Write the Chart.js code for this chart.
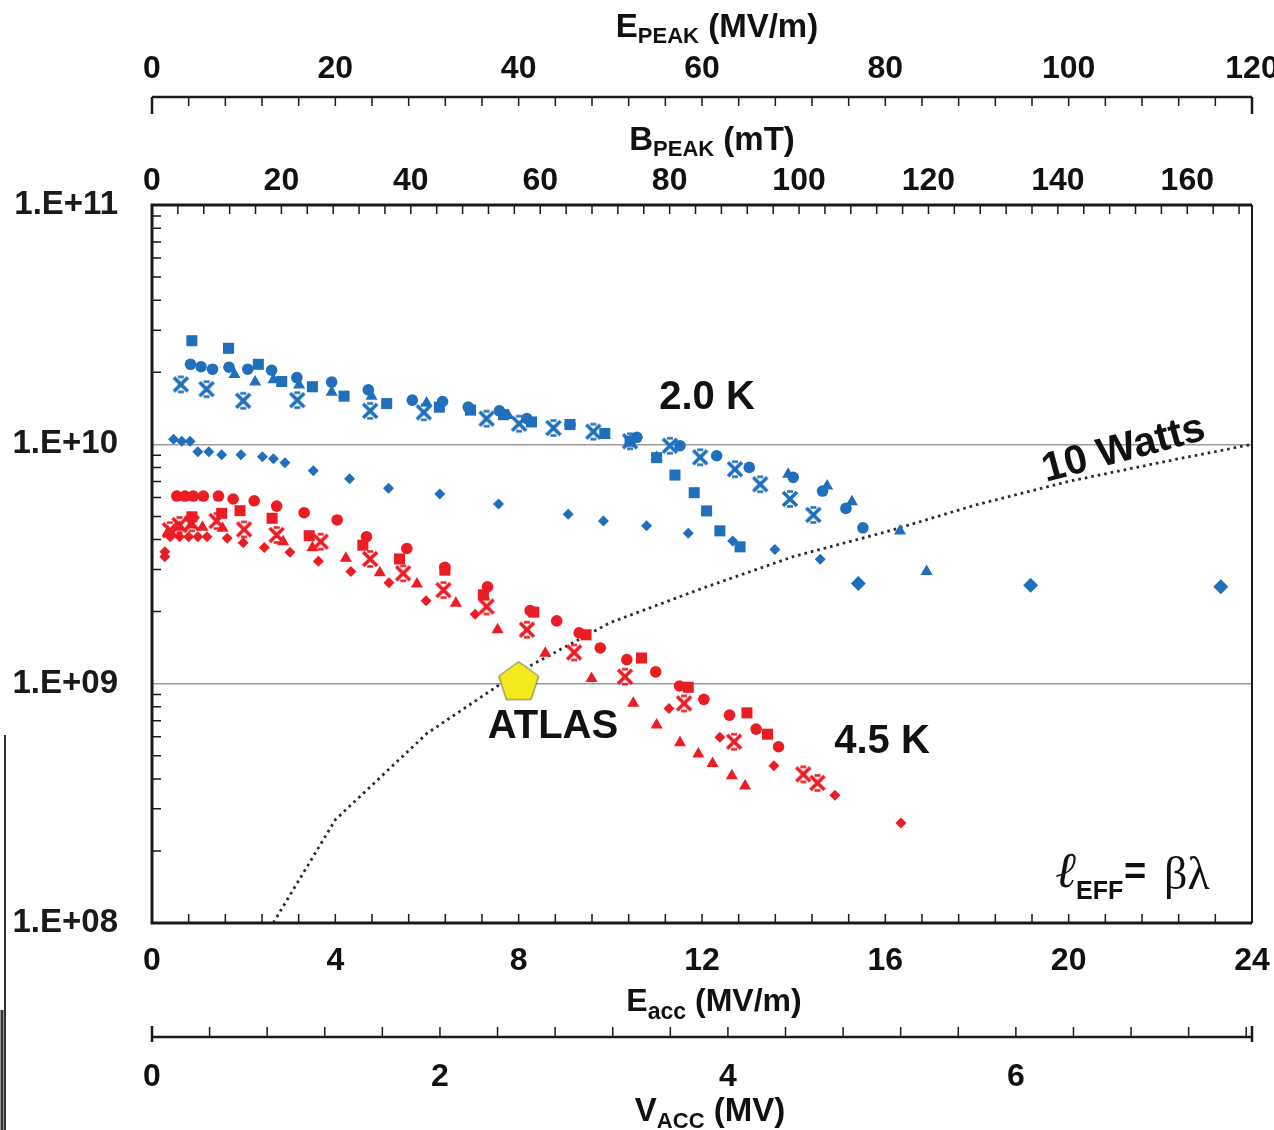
<!DOCTYPE html>
<html>
<head>
<meta charset="utf-8">
<script src="https://cdn.jsdelivr.net/npm/chart.js@4.4.1/dist/chart.umd.min.js"></script>
<style>
  body { margin: 0; background: #fff; }
  #wrap { width: 1274px; height: 1130px; }
</style>
</head>
<body>
<div id="wrap"><canvas id="myChart" width="1274" height="1130"></canvas></div>
<script>
// ---- data (Eacc in MV/m, Q0) ----
const blueCircleE = [0.84, 1.07, 1.32, 1.68, 2.09, 2.61, 3.16, 3.92, 4.72, 5.68, 6.34, 6.90, 7.58, 8.18, 9.12, 10.58, 11.52, 12.32, 13.03, 13.99, 14.63, 15.14, 15.51];
const blueCircleQ = [2.16e10, 2.11e10, 2.06e10, 2.10e10, 2.06e10, 2.04e10, 1.90e10, 1.82e10, 1.69e10, 1.53e10, 1.51e10, 1.43e10, 1.38e10, 1.28e10, 1.21e10, 1.07e10, 9.87e9, 8.96e9, 8.01e9, 7.28e9, 6.38e9, 5.40e9, 4.48e9];

const blueSquareE = [0.87, 1.67, 2.32, 2.83, 3.50, 4.19, 5.12, 6.27, 6.95, 7.67, 8.28, 9.12, 9.88, 10.43, 11.01, 11.41, 11.83, 12.10, 12.39, 12.83];
const blueSquareQ = [2.71e10, 2.52e10, 2.16e10, 1.83e10, 1.74e10, 1.59e10, 1.48e10, 1.43e10, 1.39e10, 1.33e10, 1.24e10, 1.21e10, 1.11e10, 1.03e10, 8.8e9, 7.44e9, 6.28e9, 5.27e9, 4.35e9, 3.73e9];

const blueTriE = [1.80, 2.25, 2.65, 3.21, 3.92, 4.79, 5.99, 7.77, 10.43, 11.01, 13.88, 14.73, 15.27, 16.32, 16.90];
const blueTriQ = [1.96e10, 1.82e10, 1.86e10, 1.77e10, 1.65e10, 1.59e10, 1.49e10, 1.32e10, 1.03e10, 8.8e9, 7.50e9, 6.70e9, 5.75e9, 4.34e9, 2.94e9];

const blueStarE = [0.63, 1.19, 1.99, 3.17, 4.76, 5.93, 7.30, 8.01, 8.76, 9.63, 10.43, 11.30, 11.96, 12.72, 13.27, 13.92, 14.43];
const blueStarQ = [1.78e10, 1.70e10, 1.52e10, 1.53e10, 1.38e10, 1.36e10, 1.28e10, 1.22e10, 1.17e10, 1.13e10, 1.03e10, 9.87e9, 8.83e9, 7.87e9, 6.81e9, 5.91e9, 5.07e9];

const blueDiamondE = [0.47, 0.65, 0.83, 1.00, 1.24, 1.52, 1.94, 2.41, 2.65, 2.90, 3.52, 4.31, 5.16, 6.28, 7.56, 9.08, 9.85, 10.79, 11.70, 12.67, 13.59, 14.58];
const blueDiamondQ = [1.05e10, 1.03e10, 1.03e10, 9.31e9, 9.31e9, 9.05e9, 9.05e9, 8.87e9, 8.70e9, 8.38e9, 7.76e9, 7.18e9, 6.56e9, 6.20e9, 5.63e9, 5.10e9, 4.78e9, 4.57e9, 4.25e9, 3.95e9, 3.64e9, 3.31e9];

const blueBigDiamondE = [15.41, 19.17, 23.32];
const blueBigDiamondQ = [2.62e9, 2.58e9, 2.54e9];

const redCircleE = [0.54, 0.72, 0.90, 1.12, 1.45, 1.77, 2.23, 2.72, 3.32, 4.04, 4.68, 5.56, 6.39, 7.32, 8.25, 8.83, 9.32, 9.78, 10.36, 10.99, 11.51, 12.04, 12.60, 13.18, 13.67];
const redCircleQ = [6.08e9, 6.08e9, 6.08e9, 6.08e9, 6.08e9, 5.91e9, 5.81e9, 5.52e9, 5.18e9, 4.83e9, 4.11e9, 3.67e9, 3.06e9, 2.54e9, 2.02e9, 1.83e9, 1.63e9, 1.41e9, 1.26e9, 1.12e9, 9.78e8, 8.60e8, 7.39e8, 6.46e8, 5.45e8];

const redSquareE = [0.87, 1.52, 1.92, 2.62, 3.43, 4.60, 5.40, 6.39, 7.23, 8.33, 9.47, 10.68, 11.70, 12.98, 13.43];
const redSquareQ = [4.98e9, 5.15e9, 5.28e9, 4.91e9, 4.15e9, 3.79e9, 3.32e9, 2.98e9, 2.35e9, 1.99e9, 1.60e9, 1.28e9, 9.66e8, 7.55e8, 6.15e8];

const redTriE = [0.35, 0.60, 0.85, 1.10, 1.54, 2.86, 3.50, 4.23, 4.97, 5.78, 6.63, 7.54, 8.58, 9.59, 10.50, 11.01, 11.52, 11.92, 12.23, 12.65, 12.94];
const redTriQ = [4.3e9, 4.5e9, 4.6e9, 4.5e9, 4.46e9, 3.92e9, 3.70e9, 3.34e9, 2.91e9, 2.61e9, 2.17e9, 1.68e9, 1.34e9, 1.05e9, 8.28e8, 6.72e8, 5.67e8, 5.08e8, 4.64e8, 4.12e8, 3.74e8];

const redStarE = [0.39, 0.60, 0.87, 1.41, 2.01, 2.72, 3.68, 4.76, 5.48, 6.36, 7.30, 8.18, 9.21, 10.32, 11.61, 12.70, 14.21, 14.52];
const redStarQ = [4.38e9, 4.6e9, 4.68e9, 4.78e9, 4.41e9, 4.18e9, 3.92e9, 3.32e9, 2.89e9, 2.46e9, 2.10e9, 1.68e9, 1.35e9, 1.07e9, 8.27e8, 5.72e8, 4.18e8, 3.85e8];

const redDiamondE = [0.28, 0.28, 0.40, 0.60, 0.80, 1.00, 1.20, 1.64, 1.99, 2.45, 3.01, 3.63, 4.34, 5.17, 5.98, 7.05, 11.28, 12.39, 13.57, 14.90, 16.34];
const redDiamondQ = [3.56e9, 3.39e9, 4.11e9, 4.11e9, 4.11e9, 4.11e9, 4.11e9, 4.05e9, 3.88e9, 3.71e9, 3.54e9, 3.25e9, 2.94e9, 2.64e9, 2.22e9, 1.95e9, 7.88e8, 5.97e8, 4.54e8, 3.42e8, 2.62e8];

const atlasE = [8.0];
const atlasQ = [1.03e9];

// 10 W dissipation curve
const tenWattE = [2.5, 4, 6, 8, 10, 12, 14, 16, 18, 20, 22, 24];
const tenWattQ = [9.0e7, 2.7e8, 6.2e8, 1.12e9, 1.8e9, 2.5e9, 3.4e9, 4.3e9, 5.6e9, 7.0e9, 8.4e9, 1.0e10];

// axis ranges
const eaccMax = 24;
const vaccMax = 7.64;
const bpeakMax = 170;
const epeakMax = 120;

const BLUE = '#1f6fbd';
const RED = '#ec1c24';
const SANS = "'Liberation Sans', Arial, sans-serif";
const SERIF = "'Liberation Serif', 'Times New Roman', serif";

function pts(xs, ys) { return xs.map((x, i) => ({ x: x, y: ys[i] })); }

// star marker like the spreadsheet one: heavy X with short flat caps
function starMarker(color) {
  const c = document.createElement('canvas');
  c.width = 20; c.height = 20;
  const g = c.getContext('2d');
  g.strokeStyle = color; g.lineCap = 'butt';
  g.lineWidth = 3.6;
  g.beginPath();
  g.moveTo(3, 3); g.lineTo(17, 17);
  g.moveTo(17, 3); g.lineTo(3, 17);
  g.stroke();
  g.lineWidth = 2.6;
  g.beginPath();
  g.moveTo(7, 2.5); g.lineTo(13, 2.5);
  g.moveTo(7, 17.5); g.lineTo(13, 17.5);
  g.stroke();
  return c;
}

function pentagon() {
  const c = document.createElement('canvas');
  c.width = 46; c.height = 46;
  const g = c.getContext('2d');
  g.beginPath();
  for (let i = 0; i < 5; i++) {
    const a = -Math.PI / 2 + i * 2 * Math.PI / 5;
    const px = 23 + 21 * Math.cos(a), py = 25 + 21 * Math.sin(a);
    if (i === 0) g.moveTo(px, py); else g.lineTo(px, py);
  }
  g.closePath();
  g.fillStyle = '#f4ea1b';
  g.fill();
  g.strokeStyle = '#6b6b5a'; g.lineWidth = 1;
  g.stroke();
  return c;
}

function drawParts(ctx, parts, cx, baseline) {
  let w = 0;
  parts.forEach(p => { ctx.font = p[3] + ' ' + p[1] + 'px ' + (p[4] || SANS); w += ctx.measureText(p[0]).width; });
  let x = cx - w / 2;
  ctx.textAlign = 'left';
  ctx.textBaseline = 'alphabetic';
  parts.forEach(p => {
    ctx.font = p[3] + ' ' + p[1] + 'px ' + (p[4] || SANS);
    ctx.fillText(p[0], x, baseline + p[2]);
    x += ctx.measureText(p[0]).width;
  });
}

const framePlugin = {
  id: 'frame',
  beforeDatasetsDraw(chart) {
    const { ctx, chartArea: a, scales } = chart;
    ctx.save();
    ctx.strokeStyle = '#1a1a1a';
    ctx.lineWidth = 1.5;
    ctx.beginPath();
    for (let i = 1; i < 43; i++) {
      const px = scales.xB.getPixelForValue(i * 4);
      ctx.moveTo(px, a.top); ctx.lineTo(px, a.top + 9);
    }
    for (let i = 1; i < 30; i++) {
      const px = scales.x.getPixelForValue(i * 0.8);
      ctx.moveTo(px, a.bottom); ctx.lineTo(px, a.bottom - 9);
    }
    for (let d = 8; d < 11; d++) {
      for (let m = 2; m <= 9; m++) {
        const py = scales.y.getPixelForValue(m * Math.pow(10, d));
        ctx.moveTo(a.left, py); ctx.lineTo(a.left + 9, py);
      }
    }
    ctx.stroke();

    // plot frame
    ctx.lineWidth = 3;
    ctx.beginPath();
    ctx.moveTo(a.right, a.top); ctx.lineTo(a.left, a.top); ctx.lineTo(a.left, a.bottom); ctx.lineTo(a.right, a.bottom);
    ctx.stroke();
    ctx.lineWidth = 2;
    ctx.beginPath();
    ctx.moveTo(a.right, a.top); ctx.lineTo(a.right, a.bottom);
    ctx.stroke();

    // E peak axis line (top)
    const ey = scales.xE.bottom - 13;
    ctx.lineWidth = 2.5;
    ctx.beginPath();
    ctx.moveTo(scales.xE.getPixelForValue(0), ey); ctx.lineTo(scales.xE.getPixelForValue(epeakMax), ey);
    ctx.stroke();
    ctx.lineWidth = 1.5;
    ctx.beginPath();
    for (let i = 1; i < 30; i++) {
      const px = scales.xE.getPixelForValue(i * 4);
      ctx.moveTo(px, ey); ctx.lineTo(px, ey + 9);
    }
    ctx.stroke();
    ctx.lineWidth = 2.5;
    ctx.beginPath();
    [0, epeakMax].forEach(v => { const px = scales.xE.getPixelForValue(v); ctx.moveTo(px, ey); ctx.lineTo(px, ey + 17); });
    ctx.stroke();

    // V acc axis line (bottom)
    const vy = scales.xV.top;
    ctx.lineWidth = 2.5;
    ctx.beginPath();
    ctx.moveTo(scales.xV.getPixelForValue(0), vy); ctx.lineTo(scales.xV.getPixelForValue(vaccMax), vy);
    ctx.stroke();
    ctx.lineWidth = 1.5;
    ctx.beginPath();
    for (let i = 1; i <= 19; i++) {
      const px = scales.xV.getPixelForValue(i * 0.4);
      ctx.moveTo(px, vy); ctx.lineTo(px, vy - 10);
    }
    ctx.stroke();
    ctx.lineWidth = 2.5;
    ctx.beginPath();
    [0, vaccMax].forEach(v => { const px = scales.xV.getPixelForValue(v); ctx.moveTo(px, vy - 11); ctx.lineTo(px, vy + 5); });
    ctx.stroke();

    // stray edge lines of the scanned figure
    ctx.strokeStyle = '#333';
    ctx.lineWidth = 2;
    ctx.beginPath(); ctx.moveTo(5, 735); ctx.lineTo(5, 1130); ctx.stroke();
    ctx.lineWidth = 3;
    ctx.beginPath(); ctx.moveTo(2, 1010); ctx.lineTo(2, 1130); ctx.stroke();
    ctx.restore();
  },
  afterDraw(chart) {
    const ctx = chart.ctx;
    ctx.save();
    ctx.fillStyle = '#111';
    // axis titles with subscripts
    drawParts(ctx, [['E', 33, 0, 'bold'], ['PEAK', 22, 6, 'bold'], [' (MV/m)', 33, 0, 'bold']], 717, 37);
    drawParts(ctx, [['B', 33, 0, 'bold'], ['PEAK', 22, 6, 'bold'], [' (mT)', 33, 0, 'bold']], 712, 150);
    drawParts(ctx, [['E', 32, 0, 'bold'], ['acc', 23, 8, 'bold'], [' (MV/m)', 32, 0, 'bold']], 714, 1011);
    drawParts(ctx, [['V', 33, 0, 'bold'], ['ACC', 22, 7, 'bold'], [' (MV)', 33, 0, 'bold']], 710, 1121);

    // annotations
    ctx.textAlign = 'center';
    ctx.textBaseline = 'middle';
    ctx.font = 'bold 40px ' + SANS;
    ctx.fillText('2.0 K', 707, 398);
    ctx.fillText('4.5 K', 882, 742);
    ctx.fillText('ATLAS', 553, 727);

    ctx.save();
    ctx.translate(1046, 482);
    ctx.rotate(-15 * Math.PI / 180);
    ctx.textAlign = 'left';
    ctx.textBaseline = 'alphabetic';
    ctx.font = 'bold 41px ' + SANS;
    ctx.fillText('10 Watts', 0, 0);
    ctx.restore();

    ctx.textAlign = 'left';
    ctx.textBaseline = 'alphabetic';
    ctx.font = 'italic bold 50px ' + SERIF;
    ctx.fillText('\u2113', 1056, 887);
    ctx.font = 'bold 25px ' + SANS;
    ctx.fillText('EFF', 1076, 899);
    ctx.font = 'bold 38px ' + SANS;
    ctx.fillText('=', 1124, 884);
    ctx.font = '46px ' + SERIF;
    ctx.fillText('\u03b2\u03bb', 1164, 889);
    ctx.restore();
  }
};

function hideX(s, h) { s.height = h; s.paddingLeft = 0; s.paddingRight = 0; }

const tickFont = { family: SANS, size: 32, weight: 'bold' };
const noGrid = { display: false, drawTicks: false };

const ctx = document.getElementById('myChart');

new Chart(ctx, {
  type: 'scatter',
  data: {
    datasets: [
      { label: 'ATLAS', data: pts(atlasE, atlasQ), pointStyle: pentagon(), pointRadius: 21 },
      { label: '2.0 K circles', data: pts(blueCircleE, blueCircleQ), pointStyle: 'circle', pointRadius: 5.8, backgroundColor: BLUE, borderColor: BLUE, borderWidth: 0 },
      { label: '2.0 K squares', data: pts(blueSquareE, blueSquareQ), pointStyle: 'rect', pointRadius: 7.8, backgroundColor: BLUE, borderColor: BLUE, borderWidth: 0 },
      { label: '2.0 K triangles', data: pts(blueTriE, blueTriQ), pointStyle: 'triangle', pointRadius: 7, backgroundColor: BLUE, borderColor: BLUE, borderWidth: 0 },
      { label: '2.0 K stars', data: pts(blueStarE, blueStarQ), pointStyle: starMarker(BLUE), pointRadius: 10 },
      { label: '2.0 K diamonds', data: pts(blueDiamondE, blueDiamondQ), pointStyle: 'rectRot', pointRadius: 5.5, backgroundColor: BLUE, borderColor: BLUE, borderWidth: 0 },
      { label: '2.0 K large diamonds', data: pts(blueBigDiamondE, blueBigDiamondQ), pointStyle: 'rectRot', pointRadius: 7.5, backgroundColor: BLUE, borderColor: BLUE, borderWidth: 0 },
      { label: '4.5 K circles', data: pts(redCircleE, redCircleQ), pointStyle: 'circle', pointRadius: 5.8, backgroundColor: RED, borderColor: RED, borderWidth: 0 },
      { label: '4.5 K squares', data: pts(redSquareE, redSquareQ), pointStyle: 'rect', pointRadius: 7.8, backgroundColor: RED, borderColor: RED, borderWidth: 0 },
      { label: '4.5 K triangles', data: pts(redTriE, redTriQ), pointStyle: 'triangle', pointRadius: 7, backgroundColor: RED, borderColor: RED, borderWidth: 0 },
      { label: '4.5 K stars', data: pts(redStarE, redStarQ), pointStyle: starMarker(RED), pointRadius: 10 },
      { label: '4.5 K diamonds', data: pts(redDiamondE, redDiamondQ), pointStyle: 'rectRot', pointRadius: 5.5, backgroundColor: RED, borderColor: RED, borderWidth: 0 },
      { label: '10 Watts', data: pts(tenWattE, tenWattQ), showLine: true, pointRadius: 0, borderColor: '#2a2a2a', borderWidth: 2.8, borderDash: [2.6, 4], borderCapStyle: 'butt', tension: 0, fill: false }
    ]
  },
  options: {
    responsive: false,
    animation: false,
    layout: { padding: { left: 0, right: 22, top: 0, bottom: 0 } },
    plugins: { legend: { display: false }, tooltip: { enabled: false } },
    scales: {
      y: {
        type: 'logarithmic', position: 'left', min: 1e8, max: 1e11,
        afterFit: s => { s.width = 152; },
        ticks: {
          autoSkip: false, padding: 34, color: '#1a1a1a',
          font: { family: SANS, size: 33, weight: 'bold' },
          callback: v => {
            const e = Math.log10(v);
            return Math.abs(e - Math.round(e)) < 1e-6 ? '1.E+' + String(Math.round(e)).padStart(2, '0') : '';
          }
        },
        grid: {
          drawTicks: false, lineWidth: 1.5,
          color: c => (c.tick && (Math.abs(c.tick.value - 1e9) < 1 || Math.abs(c.tick.value - 1e10) < 1)) ? '#9b9b9b' : 'rgba(0,0,0,0)'
        },
        border: { display: false }
      },
      x: {
        type: 'linear', position: 'bottom', weight: 0, min: 0, max: eaccMax,
        afterFit: s => hideX(s, 114),
        ticks: { stepSize: 4, includeBounds: false, autoSkip: false, maxRotation: 0, padding: 19, color: '#111', font: tickFont },
        grid: noGrid, border: { display: false }
      },
      xV: {
        type: 'linear', position: 'bottom', weight: 1, min: 0, max: vaccMax,
        afterFit: s => hideX(s, 93),
        ticks: { stepSize: 2, includeBounds: false, autoSkip: false, maxRotation: 0, padding: 21, color: '#111', font: tickFont },
        grid: noGrid, border: { display: false }
      },
      xB: {
        type: 'linear', position: 'top', weight: 0, min: 0, max: bpeakMax,
        afterFit: s => hideX(s, 95),
        ticks: { stepSize: 20, includeBounds: false, autoSkip: false, maxRotation: 0, padding: 5, color: '#111', font: tickFont },
        grid: noGrid, border: { display: false }
      },
      xE: {
        type: 'linear', position: 'top', weight: 1, min: 0, max: epeakMax,
        afterFit: s => hideX(s, 110),
        ticks: { stepSize: 20, includeBounds: false, autoSkip: false, maxRotation: 0, padding: 22, color: '#111', font: tickFont },
        grid: noGrid, border: { display: false }
      }
    }
  },
  plugins: [framePlugin]
});
</script>
</body>
</html>
